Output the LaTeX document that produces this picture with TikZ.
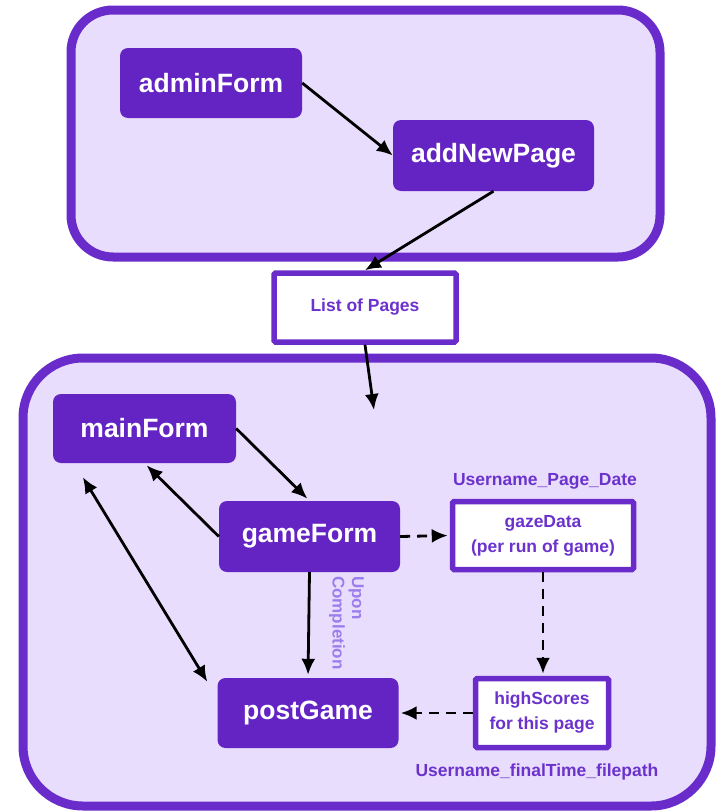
\documentclass[tikz,border=0pt]{standalone}
\usepackage{fontspec}
\setmainfont{Liberation Sans}
\usetikzlibrary{arrows.meta,calc}
\definecolor{boxpurple}{HTML}{6424C4}
\definecolor{edgepurple}{HTML}{6A2BCB}
\definecolor{lav}{HTML}{E9DDFE}
\definecolor{txtpurple}{HTML}{6B33CC}
\definecolor{lightpurple}{HTML}{9B7DEB}
\begin{document}
\begin{tikzpicture}[x=1pt,y=-1pt,
  container/.style={draw=edgepurple, line width=9pt, fill=lav},
  formbox/.style={fill=boxpurple, rounded corners=8pt, text=white,
    font=\bfseries\fontsize{26.5}{30}\selectfont, inner sep=0pt},
  databox/.style={draw=edgepurple, fill=white, line width=5.5pt, text=txtpurple,
    font=\bfseries\fontsize{17.5}{25}\selectfont, align=center, inner sep=0pt, rounded corners=1.5pt},
  lbl/.style={text=txtpurple, font=\bfseries\fontsize{17.5}{20}\selectfont, inner sep=0pt},
  conn/.style={draw=black, line width=2.8pt, -{Latex[length=16pt,width=14pt]}},
  dconn/.style={conn, dash pattern=on 10pt off 7pt},
]
\useasboundingbox (0,0) rectangle (717,811);
% containers
\draw[container, rounded corners=42pt] (71,10) rectangle (660,257);
\draw[container, rounded corners=60pt] (23,358) rectangle (711,806);
% form boxes
\node[formbox, minimum width=182pt, minimum height=70pt] (adminForm) at (211,83) {adminForm};
\node[formbox, minimum width=201pt, minimum height=71pt] (addNewPage) at (493.5,155.5) {addNewPage};
\node[formbox, minimum width=183pt, minimum height=69pt] (mainForm) at (144.5,428.5) {mainForm};
\node[formbox, minimum width=181pt, minimum height=71pt] (gameForm) at (309.5,536.5) {gameForm};
\node[formbox, minimum width=181pt, minimum height=70pt] (postGame) at (308,713) {postGame};
% data boxes
\node[databox, minimum width=182pt, minimum height=69pt] (List) at (365,307.5) {List of Pages};
\node[databox, minimum width=181pt, minimum height=68pt] (gazeData) at (543,535.5) {gazeData\\(per run of game)};
\node[databox, minimum width=133pt, minimum height=69pt] (highScores) at (542,713) {highScores\\for this page};
% labels
\node[lbl] (lblPage) at (545,481) {Username\_Page\_Date};
\node[lbl] (lblFinal) at (537,772) {Username\_finalTime\_filepath};
\node[text=lightpurple, font=\bfseries\fontsize{17}{19.5}\selectfont, rotate=-90,
  anchor=north west, align=left, inner sep=0pt] (upon) at (364,576) {Upon\\Completion};
% connectors
\coordinate (entry) at (374,410);
\draw[conn] (adminForm.east) -- (addNewPage.west);
\draw[conn] (addNewPage.south) -- (List.north);
\draw[conn] (List.south) -- (entry);
\draw[conn, shorten >=3pt] (mainForm.east) -- (gameForm.north);
\draw[conn, shorten >=3pt] (gameForm.west) -- (mainForm.south);
\draw[conn, {Latex[length=16pt,width=14pt]}-{Latex[length=16pt,width=14pt]}]
  ($(mainForm.south west)+(30,14)$) -- ($(postGame.north west)+(-10,4)$);
\draw[conn, shorten >=3pt] (gameForm.south) -- (postGame.north);
\draw[dconn, shorten >=2pt] (gameForm.east) -- (gazeData.west);
\draw[dconn, shorten >=2pt] (gazeData.south) -- (gazeData.south |- highScores.north);
\draw[dconn, shorten >=2pt] (highScores.west) -- (postGame.east);
\end{tikzpicture}
\end{document}
